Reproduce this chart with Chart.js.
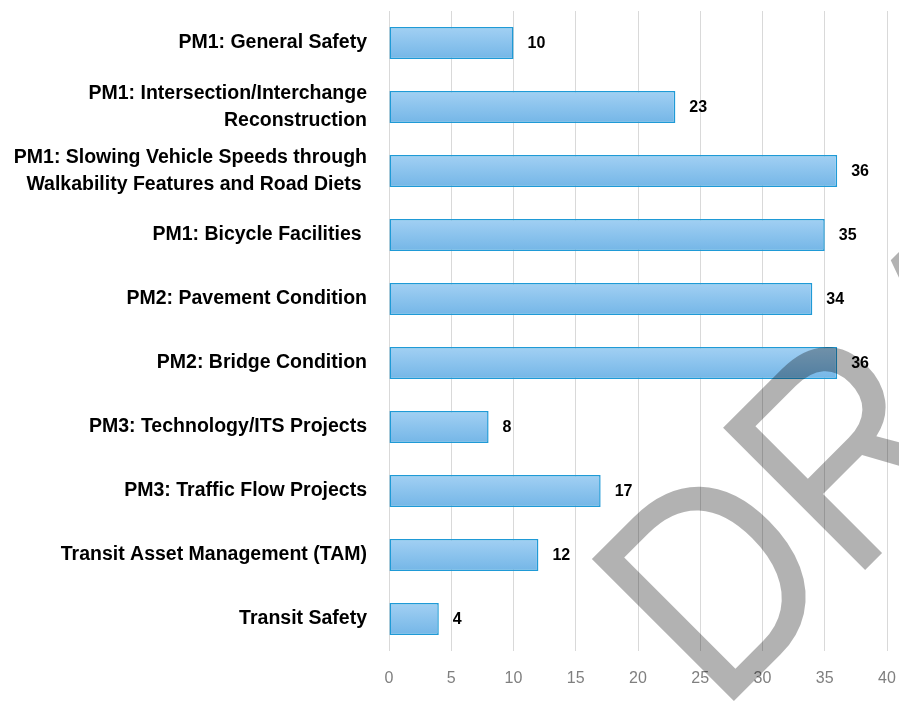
<!DOCTYPE html>
<html>
<head>
<meta charset="utf-8">
<script src="https://cdn.jsdelivr.net/npm/chart.js@4"></script>
<style>
  html, body { margin: 0; padding: 0; background: #fff; }
  #wrap { width: 899px; height: 703px; }
</style>
</head>
<body>
<div id="wrap"><canvas id="chart" width="899" height="703"></canvas></div>
<script>
// Categories (top to bottom) and project counts
const categories = [
  'PM1: General Safety',
  ['PM1: Intersection/Interchange', 'Reconstruction'],
  ['PM1: Slowing Vehicle Speeds through', 'Walkability Features and Road Diets '],
  'PM1: Bicycle Facilities ',
  'PM2: Pavement Condition',
  'PM2: Bridge Condition',
  'PM3: Technology/ITS Projects',
  'PM3: Traffic Flow Projects',
  'Transit Asset Management (TAM)',
  'Transit Safety'
];
const projectCounts = [10, 23, 36, 35, 34, 36, 8, 17, 12, 4];
const xTicks = [0, 5, 10, 15, 20, 25, 30, 35, 40];
const watermarkText = 'DRAFT';

// Vertical gradient per bar, built once layout is known
const barGradient = {
  id: 'barGradient',
  beforeDatasetsDraw(chart) {
    const ctx = chart.ctx;
    chart.getDatasetMeta(0).data.forEach((bar) => {
      const top = bar.y - bar.height / 2;
      const g = ctx.createLinearGradient(0, top, 0, top + bar.height);
      g.addColorStop(0, '#a2d0f3');
      g.addColorStop(1, '#74b6e7');
      bar.options = Object.assign({}, bar.options, { backgroundColor: g });
    });
  }
};

// Value labels to the right of each bar
const valueLabels = {
  id: 'valueLabels',
  afterDatasetsDraw(chart) {
    const ctx = chart.ctx;
    const ds = chart.data.datasets[0];
    ctx.save();
    ctx.font = 'bold 16px "Liberation Sans", Arial, sans-serif';
    ctx.fillStyle = '#000';
    ctx.textAlign = 'left';
    ctx.textBaseline = 'middle';
    chart.getDatasetMeta(0).data.forEach((bar, i) => {
      ctx.fillText(String(ds.data[i]), bar.x + 14, bar.y + 1);
    });
    ctx.restore();
  }
};

// Semi-transparent diagonal watermark
const watermark = {
  id: 'watermark',
  afterDraw(chart) {
    const ctx = chart.ctx;
    ctx.save();
    ctx.translate(719, 716);
    ctx.rotate(-45 * Math.PI / 180);
    ctx.scale(0.88, 1);
    ctx.font = '292px "Liberation Sans", Arial, sans-serif';
    ctx.fillStyle = 'rgba(0, 0, 0, 0.3)';
    ctx.textAlign = 'left';
    ctx.textBaseline = 'alphabetic';
    ctx.fillText(watermarkText, 0, 0);
    ctx.restore();
  }
};

new Chart(document.getElementById('chart'), {
  type: 'bar',
  data: {
    labels: categories,
    datasets: [{
      data: projectCounts,
      backgroundColor: () => '#8cc3ed',
      borderColor: '#1f9ad6',
      borderWidth: 1.5,
      borderSkipped: false,
      barPercentage: 0.5,
      categoryPercentage: 1.0
    }]
  },
  options: {
    indexAxis: 'y',
    responsive: false,
    animation: false,
    devicePixelRatio: 1,
    layout: { padding: { top: 11, right: 12, bottom: 17, left: 0 } },
    plugins: {
      legend: { display: false },
      tooltip: { enabled: false }
    },
    scales: {
      x: {
        min: 0,
        max: 40,
        afterBuildTicks: (scale) => { scale.ticks = xTicks.map((v) => ({ value: v })); },
        afterFit: (scale) => { scale.height = 35; scale.paddingLeft = 0; scale.paddingRight = 0; },
        grid: { color: '#d9d9d9', lineWidth: 1, drawTicks: false },
        border: { display: false },
        ticks: {
          color: '#7f7f7f',
          padding: 18,
          font: { family: '"Liberation Sans", Arial, sans-serif', size: 16 }
        }
      },
      y: {
        afterFit: (scale) => { scale.width = 389; scale.paddingTop = 0; scale.paddingBottom = 0; },
        grid: { display: false, drawTicks: false },
        border: { display: false },
        ticks: {
          color: '#000',
          padding: 22,
          font: { family: '"Liberation Sans", Arial, sans-serif', size: 19.5, weight: 'bold', lineHeight: 1.42 }
        }
      }
    }
  },
  plugins: [barGradient, valueLabels, watermark]
});
</script>
</body>
</html>
